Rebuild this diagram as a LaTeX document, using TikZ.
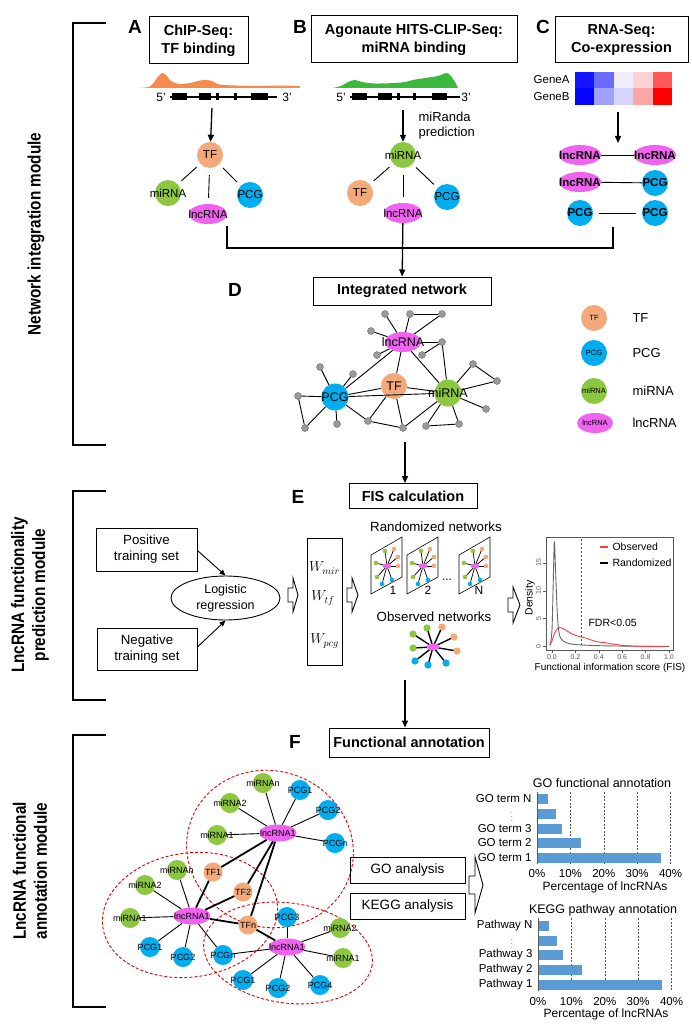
\documentclass[tikz,border=0pt]{standalone}
\usepackage{fontspec}
\setmainfont{Liberation Sans}
\newfontfamily\condfont[FakeStretch=0.85]{Liberation Sans}
\usetikzlibrary{arrows.meta,shapes.geometric}
\newcommand\fsz[1]{\fontsize{#1}{#1}\selectfont}
\newcommand\fszl[2]{\fontsize{#1}{#2}\selectfont}
\newcommand\hollowarr[6]{\draw[line width=0.9pt,fill=white,line join=miter] (#1,#2-#4) -- ++(#3,0) -- ++(0,#4-#6) -- ++(#5,#6) -- ++(-#5,#6) -- ++(0,#4-#6) -- ++(-#3,0) -- cycle;}
\definecolor{tfc}{HTML}{F4A97B}
\definecolor{pcgc}{HTML}{00AEEF}
\definecolor{mirc}{HTML}{8DC63F}
\definecolor{lncc}{HTML}{F062F0}
\definecolor{grayn}{HTML}{9A9A9A}
\definecolor{barc}{HTML}{5B9BD5}
\definecolor{peako}{HTML}{F58B4C}
\definecolor{peakg}{HTML}{3CB93C}
\definecolor{plotred}{HTML}{FF3B3B}
\newcommand\panelnet[1]{%
\begin{scope}[shift={(#1,0)}]
\draw[line width=0.6pt,fill=white] (0,555) -- (31,537) -- (31,577) -- (0,594) -- cycle;
\foreach \qx/\qy/\qc in {5/563/mirc, 6/577/mirc, 14/551/mirc, 23/549/tfc, 27/557/tfc, 27/566/tfc, 11/584/pcgc, 21/580/pcgc}{\draw[line width=0.7pt] (16,566) -- (\qx,\qy); \fill[\qc] (\qx,\qy) circle (2.3);}
\fill[lncc] (16,566) ellipse (4.5 and 2.5);
\end{scope}}
\begin{document}
\begin{tikzpicture}[x=1pt,y=-1pt,
 tbox/.style={draw,line width=1pt,align=center,inner sep=0pt,font=\bfseries\fszl{14.5}{18}},
 pbox/.style={draw,line width=0.9pt,align=center,inner sep=0pt,font=\fszl{13.3}{16}},
 letter/.style={font=\bfseries\fsz{19}},
 modlab/.style={font=\condfont\bfseries\fszl{18}{21},align=center,rotate=90},
 nodebase/.style={circle,inner sep=0pt,minimum size=26pt},
 tfn/.style={nodebase,fill=tfc},
 pcgn/.style={nodebase,fill=pcgc},
 mirn/.style={nodebase,fill=mirc},
 lncn/.style={ellipse,inner sep=0pt,fill=lncc,minimum width=38pt,minimum height=20pt},
 fnode/.style={circle,inner sep=0pt,minimum size=20pt},
 tff/.style={fnode,fill=tfc,minimum size=19pt},
 pcgf/.style={fnode,fill=pcgc},
 mirf/.style={fnode,fill=mirc},
 lncf/.style={ellipse,inner sep=0pt,fill=lncc,minimum width=37pt,minimum height=17pt},
 gn/.style={circle,fill=grayn,draw=gray!70!black,line width=0.3pt,minimum size=7pt,inner sep=0pt},
 labA/.style={font=\fsz{11.5}},
 labC/.style={font=\bfseries\fsz{11.5}},
 labD/.style={font=\fsz{12.5}},
 labL/.style={font=\fsz{7.5}},
 labF/.style={font=\fsz{9}},
 arr/.style={-{Triangle[length=7pt,width=6pt]},line width=1.3pt},
 edg/.style={line width=0.9pt},
 thk/.style={line width=1.8pt},
 brk/.style={line width=1.4pt},
 reddash/.style={draw=red!90!black,dashed,line width=0.9pt,dash pattern=on 3pt off 2pt}
]
\useasboundingbox (0,0) rectangle (692,1030);
\fill[white] (0,0) rectangle (692,1030);

% ---------- module labels and brackets ----------
\node[modlab] (m1) at (36,234) {Network integration module};
\node[modlab] (m2) at (30,595) {LncRNA functionality\\prediction module};
\node[modlab] (m3) at (30,871) {LncRNA functional\\annotation module};
\draw[brk] (106,23) -- (73,23) -- (73,445) -- (106,445);
\draw[brk] (106,491) -- (73,491) -- (73,700) -- (106,700);
\draw[brk] (106,735) -- (73,735) -- (73,1007) -- (106,1007);

% ---------- A B C headers ----------
\node[letter] (la) at (135,27) {A};
\node[letter] (lb) at (300,27) {B};
\node[letter] (lc) at (543,27) {C};
\node[tbox,minimum width=99pt,minimum height=47pt] (boxA) at (198.5,40.5) {ChIP-Seq:\\TF binding};
\node[tbox,minimum width=206pt,minimum height=47pt] (boxB) at (414,39.5) {Agonaute HITS-CLIP-Seq:\\miRNA binding};
\node[tbox,minimum width=133pt,minimum height=46pt] (boxC) at (621.5,40) {RNA-Seq:\\Co-expression};

% peaks
\fill[peako] plot[smooth] coordinates {(138,88) (150,86.5) (157,78) (162,73) (166,75) (171,81) (179,84) (190,83) (200,80.5) (207,80) (213,81.5) (219,84.5) (235,85.5) (260,86) (280,85.5) (300,86)} -- (300,88) -- cycle;
\fill[peakg] plot[smooth] coordinates {(333,88) (341,86) (348,82) (355,80) (362,82) (375,83.5) (395,83) (405,82) (413,80) (425,78) (438,76) (446,73) (450,75) (455,82) (458,88)} -- cycle;
% genes
\draw[line width=1.1pt] (170,97) -- (277,97);
\foreach \a/\b in {172/187,199/211,216/219,234/237,251/268} \fill (\a,93.5) rectangle (\b,100.5);
\node[font=\fsz{12}] (a5) at (161,97) {5’};
\node[font=\fsz{12}] (a3) at (287,97) {3’};
\draw[line width=1.1pt] (350,97) -- (460,97);
\foreach \a/\b in {352/367,378/392,397/399.5,413/415.5,432/447} \fill (\a,93.5) rectangle (\b,100.5);
\node[font=\fsz{12}] (b5) at (341,97) {5’};
\node[font=\fsz{12}] (b3) at (466,97) {3’};
% heatmap
\node[font=\fsz{11.5},anchor=east] (ga) at (573,80) {GeneA};
\node[font=\fsz{11.5},anchor=east] (gb) at (573,97) {GeneB};
\foreach \i/\ca/\cb in {0/1414FF/0505FF,1/6B6BFF/A0A0FF,2/EEEEFF/D5D5FF,3/FFD3D3/FFA5A5,4/FF5858/FF0000}{
 \definecolor{hca}{HTML}{\ca}\definecolor{hcb}{HTML}{\cb}
 \fill[hca] (575+19.4*\i,72) rectangle (575+19.4*\i+19.4,88.5);
 \fill[hcb] (575+19.4*\i,88.5) rectangle (575+19.4*\i+19.4,105);}

% ---------- A network ----------
\node[tfn,label={[labA]center:TF}] (A_tf) at (210,155) {};
\node[mirn,label={[labA]center:miRNA}] (A_mir) at (168,193) {};
\node[pcgn,label={[labA]center:PCG}] (A_pcg) at (250,195) {};
\node[lncn,label={[labA]center:lncRNA}] (A_lnc) at (208,214) {};
\coordinate (A_top) at (212,108);
\draw[arr] (A_top) -- (A_tf);
\draw[edg,shorten <=5pt,shorten >=5pt] (A_tf) -- (A_mir);
\draw[edg,shorten <=7pt,shorten >=6pt] (A_tf) -- (A_lnc);
\draw[edg,shorten <=5pt,shorten >=5pt] (A_tf) -- (A_pcg);

% ---------- B network ----------
\node[mirn,label={[labA]center:miRNA}] (B_mir) at (403,155) {};
\node[tfn,label={[labA]center:TF}] (B_tf) at (360,193) {};
\node[lncn,label={[labA]center:lncRNA}] (B_lnc) at (403,213) {};
\node[pcgn,label={[labA]center:PCG}] (B_pcg) at (447,197) {};
\coordinate (B_top) at (403,110);
\draw[arr] (B_top) -- (B_mir);
\node[font=\fszl{13}{15},anchor=north west,align=left] (mirandatxt) at (415,109) {miRanda\\prediction};
\draw[edg,shorten <=5pt,shorten >=5pt] (B_mir) -- (B_tf);
\draw[edg,shorten <=7pt,shorten >=6pt] (B_mir) -- (B_lnc);
\draw[edg,shorten <=5pt,shorten >=5pt] (B_mir) -- (B_pcg);

% ---------- C network ----------
\tikzset{lncC/.style={lncn,minimum width=42pt}}
\node[lncC,label={[labC]center:lncRNA}] (C_l1) at (580,155) {};
\node[lncC,label={[labC]center:lncRNA}] (C_l2) at (655,155) {};
\node[lncC,label={[labC]center:lncRNA}] (C_l3) at (580,182) {};
\node[pcgn,label={[labC]center:PCG}] (C_p1) at (655,183) {};
\node[pcgn,label={[labC]center:PCG}] (C_p2) at (580,213) {};
\node[pcgn,label={[labC]center:PCG}] (C_p3) at (655,213) {};
\coordinate (C_top) at (618,112);
\draw[arr] (C_top) -- (618,143);
\draw[edg] (C_l1) -- (C_l2);
\draw[edg] (C_l3) -- (C_p1);
\draw[edg,shorten <=6pt,shorten >=6pt] (C_p2) -- (C_p3);

% ---------- join to D ----------
\node[letter] (ld) at (235,290) {D};
\node[tbox,minimum width=178pt,minimum height=28pt] (intbox) at (402,291) {Integrated network};
\coordinate (jA) at (227,226);
\coordinate (jC) at (613,227);
\draw[line width=1.3pt] (jA) -- (227,248) -- (613,248) -- (jC);
\draw[arr] (B_lnc) -- (intbox);

% ---------- D network ----------
\node[lncn,minimum width=36pt,label={[labD]center:lncRNA}] (Dl) at (403,342) {};
\node[tfn,label={[labD]center:TF}] (Dt) at (394,386) {};
\node[pcgn,minimum size=27pt,label={[labD]center:PCG}] (Dp) at (335,397) {};
\node[mirn,minimum size=27pt,label={[labD]center:miRNA}] (Dm) at (448,393) {};
\foreach \n/\gx/\gy in {1/385/314,2/410/314,3/442/314,4/371/331,5/377/355,6/422/355,7/442/342,8/473/364,9/497/381,10/486/409,11/459/424,12/426/426,13/403/428,14/368/421,15/337/424,16/305/428,17/298/396,18/320/367,19/353/374}
 \node[gn] (g\n) at (\gx,\gy) {};
\foreach \u/\v in {Dl/g1,Dl/g2,g2/g3,g3/Dl,Dl/g4,Dl/g5,Dl/g7,g6/g7,g7/Dm,Dl/Dt,Dl/Dp,Dl/Dm,Dt/Dp,Dt/Dm,Dp/Dm,Dm/g8,g8/g9,Dm/g9,Dm/g10,Dm/g11,g11/g12,Dm/g12,Dm/g13,Dt/g13,Dt/g14,g14/g13,Dp/g14,Dp/g15,Dp/g16,g16/g17,Dp/g17,Dp/g18,Dp/g19}
 \draw[edg] (\u) -- (\v);
\coordinate (Dbot) at (405,442);

% legend
\node[tfn,label={[labL]center:TF}] (L_tf) at (594,318) {};
\node[pcgn,label={[labL]center:PCG}] (L_pcg) at (594,353) {};
\node[mirn,label={[labL]center:miRNA}] (L_mir) at (594,391) {};
\node[lncn,minimum width=36pt,label={[labL]center:lncRNA}] (L_lnc) at (595,423) {};
\foreach \nm/\t/\yy in {t1/TF/318,t2/PCG/353,t3/miRNA/391,t4/lncRNA/423}
 \node[font=\fsz{13},anchor=west] (\nm) at (629,\yy) {\t};

% ---------- E ----------
\node[letter] (le) at (298,497) {E};
\node[tbox,minimum width=128pt,minimum height=25pt] (fisbox) at (413,496) {FIS calculation};
\draw[arr] (Dbot) -- (Dbot |- fisbox.north);
\node[pbox,minimum width=101pt,minimum height=43pt] (posbox) at (146.5,549.5) {Positive\\training set};
\node[pbox,minimum width=100pt,minimum height=42pt] (negbox) at (147,649) {Negative\\training set};
\node[ellipse,draw,line width=0.9pt,minimum width=109pt,minimum height=44pt,inner sep=0pt,align=center,font=\fszl{12.5}{16}] (logit) at (225.5,598) {Logistic\\regression};
\draw[-{Triangle[length=6pt,width=5pt]},line width=0.9pt] (posbox.east) ++(0,1) -- (logit.north);
\draw[-{Triangle[length=6pt,width=5pt]},line width=0.9pt] (negbox.east) ++(0,-2) -- (logit.south);
\hollowarr{288}{595}{5}{7}{5}{17}
\node[draw,line width=0.9pt,minimum width=35pt,minimum height=127pt,inner sep=0pt] (wbox) at (324.5,601.5) {};
\node[font=\fsz{14}] (w1) at (324.5,568) {$W_{mir}$};
\node[font=\fsz{14}] (w2) at (323,598) {$W_{tf}$};
\node[font=\fsz{14}] (w3) at (324.5,641) {$W_{pcg}$};
\hollowarr{347}{595}{5}{7}{6}{17}
\node[font=\fsz{13.3}] (randtxt) at (436,527) {Randomized networks};
\panelnet{371}
\panelnet{407}
\panelnet{459}
\node[font=\fsz{12}] (p1) at (393,590) {1};
\node[font=\fsz{12}] (p2) at (428,590) {2};
\node[font=\fsz{12}] (pd) at (447,580) {...};
\node[font=\fsz{12}] (pn) at (479,590) {N};
\node[font=\fsz{13.3}] (obstxt) at (434,617) {Observed networks};
\foreach \qx/\qy/\qc in {413/634/mirc,427/628/mirc,413/648/mirc,442/627/tfc,454/637/tfc,457/651/tfc,446/663/pcgc,428/665/pcgc,415/661/pcgc}{
 \draw[line width=1.4pt] (433,647) -- (\qx,\qy); \fill[\qc] (\qx,\qy) circle (3.6);}
\fill[lncc] (433,647) ellipse (6.5 and 3.5);
\hollowarr{508}{605}{5}{7}{7}{18}
% density plot
\draw[gray!70!black,line width=0.6pt] (546,537) rectangle (673,650);
\begin{scope}[shift={(552,646.5)},x=117pt,y=5.57pt]
 \foreach \t in {0.0,0.2,0.4,0.6,0.8,1.0}{\draw[gray!70!black,line width=0.5pt] (\t,-0.6) -- (\t,-1.2); \node[font=\fsz{7},text=gray!70!black] at (\t,-1.9) {\t};}
 \foreach \t in {0,5,10,15}{\draw[gray!70!black,line width=0.5pt] (-0.051,\t) -- (-0.077,\t); \node[font=\fsz{7},text=gray!70!black,rotate=90] at (-0.115,\t) {\t};}
 \draw[red,dashed,line width=0.8pt,dash pattern=on 2.5pt off 1.5pt] (0.25,0.2) -- (0.25,19.3);
 \draw[gray!80!black,line width=0.9pt] plot[smooth] coordinates {(-0.015,0.2) (0,3) (0.01,11) (0.02,18.8) (0.03,14) (0.045,6) (0.06,2.5) (0.08,1.3) (0.12,0.7) (0.2,0.35) (0.4,0.15) (0.7,0.05) (1.0,0.02)};
 \draw[plotred,line width=0.9pt] plot[smooth] coordinates {(-0.02,0.3) (0,1) (0.02,2.3) (0.05,3.3) (0.08,3.35) (0.12,2.9) (0.16,2.4) (0.2,2.0) (0.25,1.7) (0.3,1.45) (0.35,1.05) (0.4,0.8) (0.45,0.7) (0.5,0.5) (0.55,0.35) (0.6,0.2) (0.7,0.08) (0.8,0.02) (0.97,0)};
\end{scope}
\draw[plotred,line width=1.2pt] (600,547) -- (608,547);
\draw[black,line width=1.2pt] (600,563) -- (608,563);
\node[font=\fsz{10.5},anchor=west] (obsleg) at (609,547) {Observed};
\node[font=\fsz{10.5},anchor=west] (rndleg) at (609,563) {Randomized};
\node[font=\fsz{10.5},anchor=west] (fdr) at (585,623) {FDR<0.05};
\node[font=\fsz{10.5},rotate=90] (dens) at (530,598) {Density};
\node[font=\fsz{10}] (fisx) at (610,668) {Functional information score (FIS)};

% ---------- F ----------
\node[letter] (lf) at (295,742) {F};
\node[tbox,minimum width=160pt,minimum height=29pt] (fabox) at (409,742.5) {Functional annotation};
\coordinate (Ebot) at (405,680);
\draw[arr] (Ebot) -- (Ebot |- fabox.north);
% dashed clusters
\draw[reddash,rotate around={-20:(270,849)}] (270,849) ellipse (84 and 78);
\draw[reddash,rotate around={8:(190,915)}] (190,915) ellipse (88 and 62);
\draw[reddash,rotate around={-8:(288,953)}] (288,953) ellipse (85 and 50);
% nodes
\node[lncf,label={[labF]center:lncRNA1}] (T_l) at (278,833) {};
\node[mirf,label={[labF]center:miRNAn}] (T_mn) at (263,783) {};
\node[pcgf,label={[labF]center:PCG1}] (T_p1) at (300,790) {};
\node[mirf,label={[labF]center:miRNA2}] (T_m2) at (230,803) {};
\node[pcgf,label={[labF]center:PCG2}] (T_p2) at (328,810) {};
\node[mirf,label={[labF]center:miRNA1}] (T_m1) at (217,835) {};
\node[pcgf,label={[labF]center:PCGn}] (T_pn) at (335,843) {};
\node[tff,label={[labF]center:TF1}] (TF1) at (213,872) {};
\node[tff,label={[labF]center:TF2}] (TF2) at (243,892) {};
\node[tff,label={[labF]center:TFn}] (TFn) at (248,925) {};
\node[lncf,label={[labF]center:lncRNA1}] (L_l) at (192,916) {};
\node[mirf,label={[labF]center:miRNAn}] (L_mn) at (177,870) {};
\node[mirf,label={[labF]center:miRNA2}] (L_m2) at (145,885) {};
\node[mirf,label={[labF]center:miRNA1}] (L_m1) at (130,918) {};
\node[pcgf,label={[labF]center:PCG1}] (L_p1) at (150,947) {};
\node[pcgf,label={[labF]center:PCG2}] (L_p2) at (183,957) {};
\node[pcgf,label={[labF]center:PCGn}] (L_pn) at (223,955) {};
\node[lncf,label={[labF]center:lncRNA1}] (B_l) at (287,947) {};
\node[pcgf,label={[labF]center:PCG3}] (B_p3) at (287,917) {};
\node[mirf,label={[labF]center:miRNA2}] (B_m2) at (340,928) {};
\node[mirf,label={[labF]center:miRNA1}] (B_m1) at (343,958) {};
\node[pcgf,label={[labF]center:PCG1}] (B_p1) at (243,980) {};
\node[pcgf,label={[labF]center:PCG2}] (B_p2) at (278,988) {};
\node[pcgf,label={[labF]center:PCG4}] (B_p4) at (320,985) {};
\foreach \u/\v in {T_l/T_mn,T_l/T_p1,T_l/T_m2,T_l/T_p2,T_l/T_m1,T_l/T_pn,L_l/L_mn,L_l/L_m2,L_l/L_m1,L_l/L_p1,L_l/L_p2,L_l/L_pn,B_l/B_p3,B_l/B_m2,B_l/B_m1,B_l/B_p1,B_l/B_p2,B_l/B_p4,B_l/L_pn}
 \draw[edg] (\u) -- (\v);
\foreach \u/\v in {T_l/TF1,T_l/TF2,T_l/TFn,L_l/TF1,L_l/TF2,L_l/TFn,B_l/TFn}
 \draw[thk] (\u) -- (\v);
% analysis boxes
\node[pbox,minimum width=115pt,minimum height=26pt,font=\fsz{13.5}] (gobox) at (407.5,870) {GO analysis};
\node[pbox,minimum width=115pt,minimum height=26pt,font=\fsz{13.5}] (keggbox) at (407.5,906) {KEGG analysis};
\hollowarr{469}{885}{6}{9}{8}{28}
% GO chart
\node[font=\fsz{12.5}] (gotitle) at (602,783) {GO functional annotation};
\foreach \g in {1,2,3,4} \draw[dashed,gray!70!black,line width=0.6pt,dash pattern=on 2pt off 1.5pt] (537+33.4*\g,792) -- (537+33.4*\g,864);
\foreach \yy/\vv in {799/3.3,814/5.6,829/7.5,843/13.3,858/37}
 \fill[barc] (537,\yy-4.6) rectangle (537+3.34*\vv,\yy+4.6);
\draw[gray!70!black,line width=0.6pt] (537,792) -- (537,864);
\foreach \yy/\lab in {799/GO term N,829/GO term 3,843/GO term 2,858/GO term 1}
 \node[font=\fsz{11.5},anchor=east] at (535,\yy) {\lab};
\node[font=\fsz{6},inner sep=0pt] (govd) at (512,814) {$\vdots$};
\foreach \g/\lab in {0/0\%,1/10\%,2/20\%,3/30\%,4/40\%}
 \node[font=\fsz{11.5}] at (537+33.4*\g,874) {\lab};
\node[font=\fsz{12}] (gox) at (605,887) {Percentage of lncRNAs};
% KEGG chart
\node[font=\fsz{12.5}] (kgtitle) at (603,910) {KEGG pathway annotation};
\foreach \g in {1,2,3,4} \draw[dashed,gray!70!black,line width=0.6pt,dash pattern=on 2pt off 1.5pt] (538+33.4*\g,918) -- (538+33.4*\g,991);
\foreach \yy/\vv in {926/3.3,941/5.6,955/7.5,970/13.3,985/37}
 \fill[barc] (538,\yy-4.6) rectangle (538+3.34*\vv,\yy+4.6);
\draw[gray!70!black,line width=0.6pt] (538,918) -- (538,991);
\foreach \yy/\lab in {926/Pathway N,955/Pathway 3,970/Pathway 2,985/Pathway 1}
 \node[font=\fsz{11.5},anchor=east] at (536,\yy) {\lab};
\node[font=\fsz{6},inner sep=0pt] (kgvd) at (512,941) {$\vdots$};
\foreach \g/\lab in {0/0\%,1/10\%,2/20\%,3/30\%,4/40\%}
 \node[font=\fsz{11.5}] at (538+33.4*\g,1002) {\lab};
\node[font=\fsz{12}] (kgx) at (606,1014) {Percentage of lncRNAs};
\end{tikzpicture}
\end{document}
